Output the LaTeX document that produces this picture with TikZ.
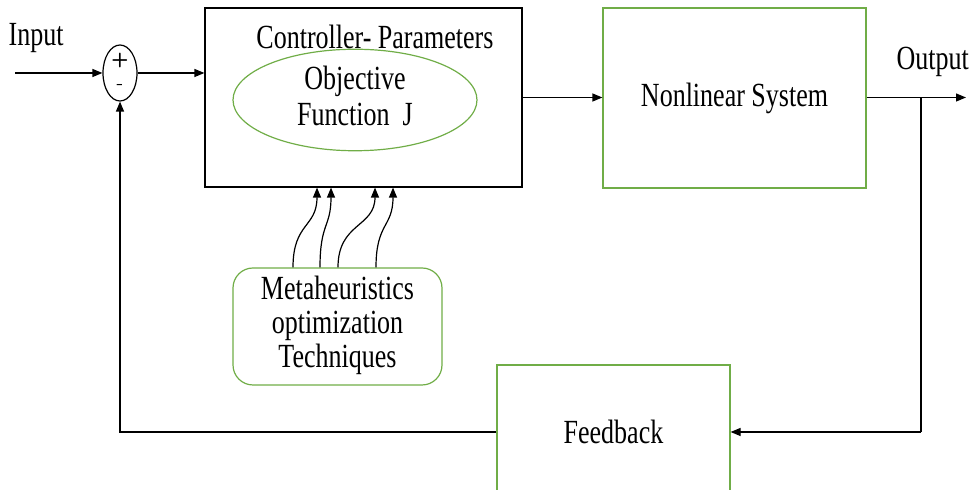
\documentclass[tikz,border=0pt]{standalone}
\usepackage{fontspec}
\usepackage{graphicx}
\setmainfont{Liberation Serif}
\usetikzlibrary{positioning, arrows.meta, shapes.geometric}
\definecolor{boxgreen}{RGB}{112,173,71}
\newcommand{\tallt}[1]{\scalebox{1}[1.3]{#1}}
\newcommand{\tallstack}[2]{\scalebox{1}[1.3]{\fontsize{13}{#1}\selectfont
\begin{tabular}{@{}c@{}}#2\end{tabular}}}

\begin{document}
\begin{tikzpicture}[x=0.5pt, y=-0.5pt, line width=0.6pt,
>={Triangle[length=5pt, width=4pt]},
every node/.style={font=\fontsize{13}{17}\selectfont}]
\useasboundingbox (0,0) rectangle (976,490);
\clip (0,0) rectangle (976,490);
% summing junction
\node (sum) [draw, ellipse, minimum width=17pt, minimum height=28pt,
inner sep=0pt] at (120,73) {};
\node (plus) [font=\sffamily\bfseries\fontsize{10}{10}\selectfont] at (120,61) {+};
\node (minus) [font=\sffamily\fontsize{10}{10}\selectfont] at (120,87) {-};
\node (inlabel) [anchor=west, inner sep=0pt] at (8,38) {\tallt{Input}};
\coordinate (in) at (15,73);
% controller
\node (ctrl) [draw, rectangle, minimum width=158.5pt,
minimum height=89.5pt] at (363.5,97.5) {};
\node (param) at (375,37) {\tallt{Controller- Parameters}};
\node (obj) [draw=boxgreen, ellipse, minimum width=122pt,
minimum height=35pt, inner sep=0pt] at (355,100)
{\raisebox{-2pt}{\tallstack{13.8pt}{Objective\\Function~~J}}};
% plant
\node (sys) [draw=boxgreen, rectangle, minimum width=131.5pt,
minimum height=90pt] at (734.5,98) {\raisebox{-1.5pt}{\tallt{Nonlinear System}}};
\node (outlabel) [anchor=west, inner sep=0pt] at (896,62) {\tallt{Output}};
\coordinate (out) at (966,97.5);
\coordinate (tap) at (921,97.5);
\coordinate (tapdown) at (921,432);
% optimiser
\node (meta) [draw=boxgreen, rectangle, rounded corners=10pt,
minimum width=104.5pt, minimum height=58.5pt]
at (337.5,326.5) {\tallstack{13.1pt}{Metaheuristics\\optimization\\Techniques}};
% feedback
\node (fb) [draw=boxgreen, rectangle, minimum width=116.5pt,
minimum height=67pt] at (613.5,432) {\tallt{Feedback}};

\draw[->] (in) -- (sum);
\draw[->] (sum) -- (sum -| ctrl.west);
\draw[->] (ctrl.east) -- (ctrl.east -| sys.west);
\draw[->] (sys.east |- out) -- (out);
\draw (tap) -- (tapdown);
\draw[->] (tapdown) -- (fb.east |- tapdown);
\draw[->] (fb.west) -| (sum.south);

\draw[->] ([xshift=-22.25pt]meta.north) .. controls +(0,-45) and +(0,40) .. ([xshift=-23.25pt]ctrl.south);
\draw[->] ([xshift=-8.75pt]meta.north) .. controls +(0,-45) and +(0,40) .. ([xshift=-16.25pt]ctrl.south);
\draw[->] ([xshift=0.25pt]meta.north) .. controls +(0,-45) and +(0,40) .. ([xshift=5.75pt]ctrl.south);
\draw[->] ([xshift=19.25pt]meta.north) .. controls +(0,-45) and +(0,40) .. ([xshift=14.75pt]ctrl.south);
\end{tikzpicture}
\end{document}
